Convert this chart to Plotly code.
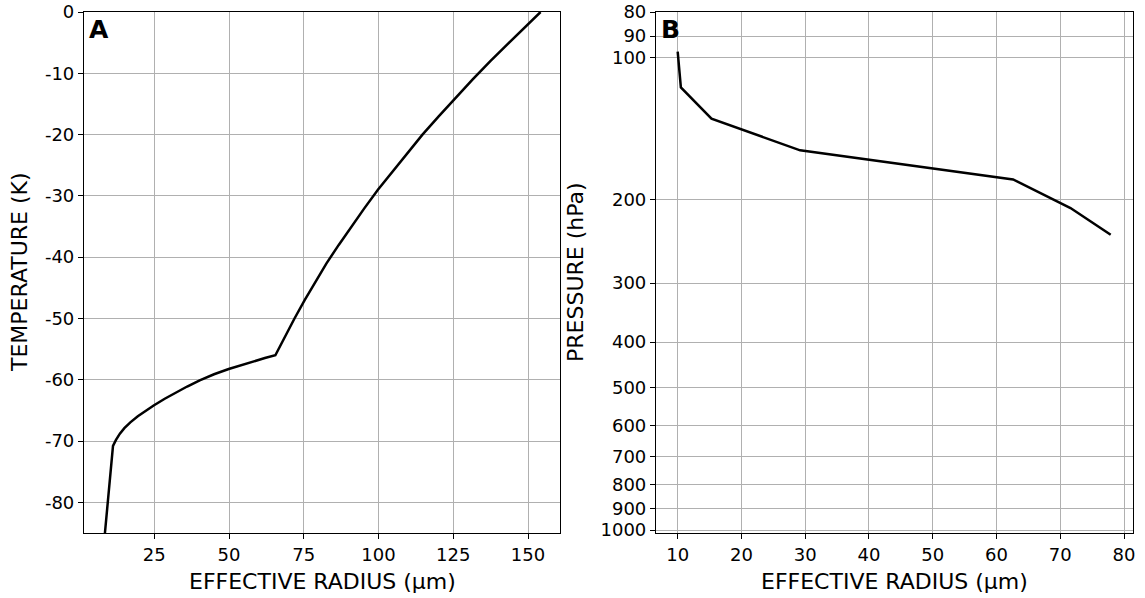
import math
import plotly.graph_objects as go

# Panel A: effective radius as a function of temperature
radius_a = [8.5, 11.2, 12.2, 13.5, 15.0, 17.0, 19.5, 22.0, 24.8, 28.5, 32.3, 36.0, 40.2,
            45.0, 49.9, 54.0, 58.0, 62.0, 65.5,
            68.6, 71.9, 75.3, 78.9, 82.6, 86.7, 90.9, 95.3, 99.8, 104.7, 109.6,
            114.7, 120.2, 125.7, 131.5, 137.4, 143.6, 148.8, 154.2]
temp_a = [-85.0, -70.8, -69.8, -68.8, -67.9, -66.95, -65.95, -65.1, -64.2, -63.1, -62.05, -61.1, -60.1,
          -59.1, -58.25, -57.6, -57.0, -56.45, -56.0,
          -53.0, -50.0, -47.0, -44.0, -41.0, -38.0, -35.0, -32.0, -29.0, -26.0, -23.0,
          -20.0, -17.0, -14.0, -11.0, -8.0, -5.0, -2.5, 0.0]

# Panel B: effective radius on pressure levels
radius_b = [10.0, 10.5, 15.3, 29.2, 62.6, 71.6, 77.9]
pres_b = [97.0, 115.5, 134.6, 157.0, 181.0, 208.0, 237.0]

temp_ticks = [0, -10, -20, -30, -40, -50, -60, -70, -80]
radius_ticks_a = [25, 50, 75, 100, 125, 150]
radius_ticks_b = [10, 20, 30, 40, 50, 60, 70, 80]
pres_ticks = [80, 90, 100, 200, 300, 400, 500, 600, 700, 800, 900, 1000]

W, H = 1145, 598
FONT = "DejaVu Sans"
GRID = "#b0b0b0"


def px_x(p):
    return p / W


def px_y(p):
    return 1 - p / H


fig = go.Figure()
fig.add_trace(go.Scatter(x=radius_a, y=temp_a, mode="lines",
                         line=dict(color="black", width=2.5),
                         xaxis="x", yaxis="y", showlegend=False))
fig.add_trace(go.Scatter(x=radius_b, y=pres_b, mode="lines",
                         line=dict(color="black", width=2.5),
                         xaxis="x2", yaxis="y2", showlegend=False))

axis_common = dict(
    showline=True, mirror=True, linecolor="black", linewidth=1.2,
    ticks="outside", ticklen=5, tickwidth=1.2, tickcolor="black",
    showgrid=True, gridcolor=GRID, gridwidth=1.1, zeroline=False,
    automargin=False, tickfont=dict(family=FONT, size=18, color="black"),
)

ydom = [px_y(533), px_y(12)]

fig.update_layout(
    width=W, height=H,
    margin=dict(l=0, r=0, t=0, b=0, pad=0),
    paper_bgcolor="white", plot_bgcolor="white",
    font=dict(family=FONT, color="black"),
    xaxis=dict(domain=[px_x(84), px_x(560)], range=[1.5, 160.7],
               tickvals=radius_ticks_a, ticktext=[str(v) for v in radius_ticks_a],
               anchor="y", **axis_common),
    yaxis=dict(domain=ydom, range=[-85, 0],
               tickvals=temp_ticks, ticktext=[str(v) for v in temp_ticks],
               anchor="x", **axis_common),
    xaxis2=dict(domain=[px_x(656), px_x(1133)], range=[6.6, 81.4],
                tickvals=radius_ticks_b, ticktext=[str(v) for v in radius_ticks_b],
                anchor="y2", **axis_common),
    yaxis2=dict(domain=ydom, type="log",
                range=[math.log10(1014), math.log10(80)],
                tickvals=pres_ticks, ticktext=[str(v) for v in pres_ticks],
                anchor="x2", **axis_common),
)

label_font = dict(family=FONT, size=22, color="black")
letter_font = dict(family=FONT, size=25, color="black")

annotations = [
    dict(text="EFFECTIVE RADIUS (µm)", x=px_x(322), y=px_y(581), xref="paper", yref="paper",
         xanchor="center", yanchor="middle", showarrow=False, font=label_font),
    dict(text="EFFECTIVE RADIUS (µm)", x=px_x(894.5), y=px_y(581), xref="paper", yref="paper",
         xanchor="center", yanchor="middle", showarrow=False, font=label_font),
    dict(text="TEMPERATURE (K)", x=px_x(20), y=px_y(272), xref="paper", yref="paper",
         xanchor="center", yanchor="middle", textangle=-90, showarrow=False, font=label_font),
    dict(text="PRESSURE (hPa)", x=px_x(576), y=px_y(272), xref="paper", yref="paper",
         xanchor="center", yanchor="middle", textangle=-90, showarrow=False, font=label_font),
    dict(text="<b>A</b>", x=px_x(87), y=px_y(30), xref="paper", yref="paper",
         xanchor="left", yanchor="middle", showarrow=False, font=letter_font),
    dict(text="<b>B</b>", x=px_x(659), y=px_y(30), xref="paper", yref="paper",
         xanchor="left", yanchor="middle", showarrow=False, font=letter_font),
]
fig.update_layout(annotations=annotations)

fig.write_html("out.html")
